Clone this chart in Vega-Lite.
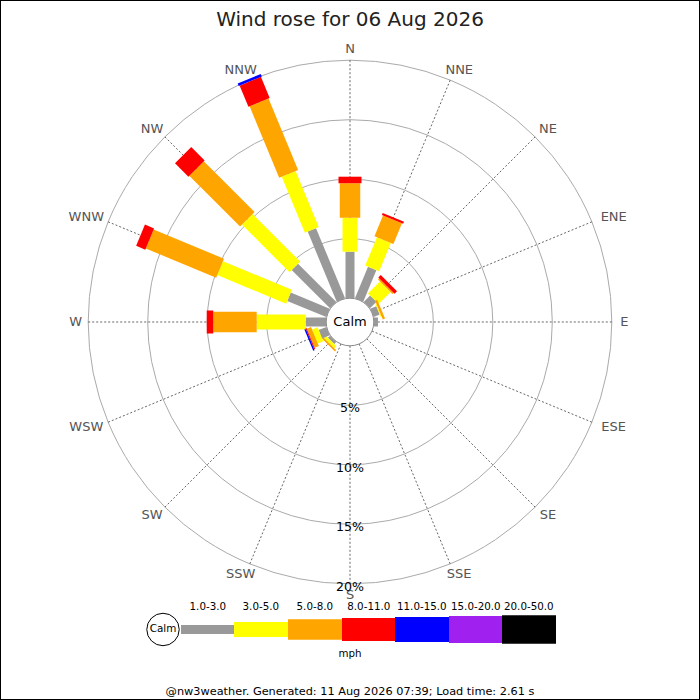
{
"$schema": "https://vega.github.io/schema/vega-lite/v6.json",
"width": 700, "height": 700,
"autosize": {"type": "none"},
"padding": 0,
"background": "#ffffff",
"config": {"font": "DejaVu Sans", "view": {"stroke": "#000000", "strokeWidth": 2}},
"title": {"text": "Wind rose for 06 Aug 2026", "fontSize": 20, "fontWeight": "normal", "color": "#222222", "anchor": "middle", "offset": -30},
"datasets": {
 "bars": [
  {"dir":"N","deg":0,"band":"1.0-3.0","lo":1,"pct":3.91},
  {"dir":"N","deg":0,"band":"3.0-5.0","lo":3,"pct":2.85},
  {"dir":"N","deg":0,"band":"5.0-8.0","lo":5,"pct":2.90},
  {"dir":"N","deg":0,"band":"8.0-11.0","lo":8,"pct":0.55},
  {"dir":"NNE","deg":22.5,"band":"1.0-3.0","lo":1,"pct":2.87},
  {"dir":"NNE","deg":22.5,"band":"3.0-5.0","lo":3,"pct":2.58},
  {"dir":"NNE","deg":22.5,"band":"5.0-8.0","lo":5,"pct":1.88},
  {"dir":"NNE","deg":22.5,"band":"8.0-11.0","lo":8,"pct":0.19},
  {"dir":"NE","deg":45,"band":"1.0-3.0","lo":1,"pct":0.77},
  {"dir":"NE","deg":45,"band":"3.0-5.0","lo":3,"pct":1.41},
  {"dir":"NE","deg":45,"band":"5.0-8.0","lo":5,"pct":0.15},
  {"dir":"NE","deg":45,"band":"8.0-11.0","lo":8,"pct":0.29},
  {"dir":"ENE","deg":67.5,"band":"1.0-3.0","lo":1,"pct":0.55},
  {"dir":"ENE","deg":67.5,"band":"3.0-5.0","lo":3,"pct":0.08},
  {"dir":"ENE","deg":67.5,"band":"5.0-8.0","lo":5,"pct":0.20},
  {"dir":"E","deg":90,"band":"1.0-3.0","lo":1,"pct":0.35},
  {"dir":"SW","deg":225,"band":"1.0-3.0","lo":1,"pct":0.25},
  {"dir":"SW","deg":225,"band":"3.0-5.0","lo":3,"pct":0.25},
  {"dir":"SW","deg":225,"band":"5.0-8.0","lo":5,"pct":0.15},
  {"dir":"WSW","deg":247.5,"band":"1.0-3.0","lo":1,"pct":0.69},
  {"dir":"WSW","deg":247.5,"band":"3.0-5.0","lo":3,"pct":0.50},
  {"dir":"WSW","deg":247.5,"band":"5.0-8.0","lo":5,"pct":0.38},
  {"dir":"WSW","deg":247.5,"band":"8.0-11.0","lo":8,"pct":0.09},
  {"dir":"WSW","deg":247.5,"band":"11.0-15.0","lo":11,"pct":0.12},
  {"dir":"W","deg":270,"band":"1.0-3.0","lo":1,"pct":1.72},
  {"dir":"W","deg":270,"band":"3.0-5.0","lo":3,"pct":4.12},
  {"dir":"W","deg":270,"band":"5.0-8.0","lo":5,"pct":3.65},
  {"dir":"W","deg":270,"band":"8.0-11.0","lo":8,"pct":0.55},
  {"dir":"WNW","deg":292.5,"band":"1.0-3.0","lo":1,"pct":3.55},
  {"dir":"WNW","deg":292.5,"band":"3.0-5.0","lo":3,"pct":6.27},
  {"dir":"WNW","deg":292.5,"band":"5.0-8.0","lo":5,"pct":6.40},
  {"dir":"WNW","deg":292.5,"band":"8.0-11.0","lo":8,"pct":0.83},
  {"dir":"NW","deg":315,"band":"1.0-3.0","lo":1,"pct":4.55},
  {"dir":"NW","deg":315,"band":"3.0-5.0","lo":3,"pct":5.65},
  {"dir":"NW","deg":315,"band":"5.0-8.0","lo":5,"pct":6.04},
  {"dir":"NW","deg":315,"band":"8.0-11.0","lo":8,"pct":1.59},
  {"dir":"NNW","deg":337.5,"band":"1.0-3.0","lo":1,"pct":6.38},
  {"dir":"NNW","deg":337.5,"band":"3.0-5.0","lo":3,"pct":5.09},
  {"dir":"NNW","deg":337.5,"band":"5.0-8.0","lo":5,"pct":6.50},
  {"dir":"NNW","deg":337.5,"band":"8.0-11.0","lo":8,"pct":1.93},
  {"dir":"NNW","deg":337.5,"band":"11.0-15.0","lo":11,"pct":0.23}
 ],
 "dirs": [
  {"dir":"N","deg":0},{"dir":"NNE","deg":22.5},{"dir":"NE","deg":45},{"dir":"ENE","deg":67.5},
  {"dir":"E","deg":90},{"dir":"ESE","deg":112.5},{"dir":"SE","deg":135},{"dir":"SSE","deg":157.5},
  {"dir":"S","deg":180},{"dir":"SSW","deg":202.5},{"dir":"SW","deg":225},{"dir":"WSW","deg":247.5},
  {"dir":"W","deg":270},{"dir":"WNW","deg":292.5},{"dir":"NW","deg":315},{"dir":"NNW","deg":337.5}
 ],
 "rings": [{"pct":5},{"pct":10},{"pct":15},{"pct":20}],
 "legend": [
  {"band":"1.0-3.0","lo":1,"hi":3},
  {"band":"3.0-5.0","lo":3,"hi":5},
  {"band":"5.0-8.0","lo":5,"hi":8},
  {"band":"8.0-11.0","lo":8,"hi":11},
  {"band":"11.0-15.0","lo":11,"hi":15},
  {"band":"15.0-20.0","lo":15,"hi":20},
  {"band":"20.0-50.0","lo":20,"hi":50}
 ]
},
"layer": [
 {"layer": [
  {"data": {"name": "rings"},
   "mark": {"type": "arc", "theta": 0, "theta2": 6.2832, "radius2": 0, "filled": false, "stroke": "#aaaaaa", "strokeWidth": 1},
   "encoding": {
    "x": {"datum": 0, "type": "quantitative", "scale": {"domain": [-29.412, 29.412], "nice": false, "zero": false}, "axis": null},
    "y": {"datum": 0, "type": "quantitative", "scale": {"domain": [-31.765, 27.059], "nice": false, "zero": false}, "axis": null},
    "radius": {"field": "pct", "type": "quantitative", "stack": null, "scale": {"type": "linear", "domain": [-2, 27.412], "range": [0, 350], "nice": false, "zero": false}}
   }},
  {"data": {"name": "dirs"},
   "transform": [
    {"calculate": "datum.deg*PI/180", "as": "a"},
    {"calculate": "2*sin(datum.a)", "as": "sx0"},
    {"calculate": "2*cos(datum.a)", "as": "sy0"},
    {"calculate": "22*sin(datum.a)", "as": "sx1"},
    {"calculate": "22*cos(datum.a)", "as": "sy1"}
   ],
   "mark": {"type": "rule", "stroke": "#555555", "strokeWidth": 0.9, "strokeDash": [2, 2]},
   "encoding": {
    "x": {"field": "sx0", "type": "quantitative", "scale": {"domain": [-29.412, 29.412], "nice": false, "zero": false}, "axis": null},
    "y": {"field": "sy0", "type": "quantitative", "scale": {"domain": [-31.765, 27.059], "nice": false, "zero": false}, "axis": null},
    "x2": {"field": "sx1"},
    "y2": {"field": "sy1"}
   }},
  {"data": {"values": [{}]},
   "mark": {"type": "arc", "theta": 0, "theta2": 6.2832, "radius2": 0, "fill": "#ffffff", "stroke": "#888888", "strokeWidth": 1},
   "encoding": {
    "x": {"datum": 0, "type": "quantitative", "scale": {"domain": [-29.412, 29.412], "nice": false, "zero": false}, "axis": null},
    "y": {"datum": 0, "type": "quantitative", "scale": {"domain": [-31.765, 27.059], "nice": false, "zero": false}, "axis": null},
    "radius": {"datum": 0, "type": "quantitative", "stack": null, "scale": {"type": "linear", "domain": [-2, 27.412], "range": [0, 350], "nice": false, "zero": false}}
   }},
  {"data": {"name": "bars"},
   "transform": [
    {"stack": "pct", "groupby": ["dir"], "sort": [{"field": "lo", "order": "ascending"}], "as": ["p0", "p1"]},
    {"calculate": "datum.deg*PI/180", "as": "a"},
    {"calculate": "(2+datum.p0)*sin(datum.a)", "as": "bx0"},
    {"calculate": "(2+datum.p0)*cos(datum.a)", "as": "by0"},
    {"calculate": "(2+datum.p1)*sin(datum.a)", "as": "bx1"},
    {"calculate": "(2+datum.p1)*cos(datum.a)", "as": "by1"}
   ],
   "mark": {"type": "rule", "strokeCap": "butt"},
   "encoding": {
    "x": {"field": "bx0", "type": "quantitative", "scale": {"domain": [-29.412, 29.412], "nice": false, "zero": false}, "axis": null},
    "y": {"field": "by0", "type": "quantitative", "scale": {"domain": [-31.765, 27.059], "nice": false, "zero": false}, "axis": null},
    "x2": {"field": "bx1"},
    "y2": {"field": "by1"},
    "color": {"field": "band", "type": "nominal", "scale": {"domain": ["1.0-3.0","3.0-5.0","5.0-8.0","8.0-11.0","11.0-15.0","15.0-20.0","20.0-50.0"], "range": ["#999999","#ffff00","#ffa500","#ff0000","#0000ff","#a020f0","#000000"]}, "legend": null},
    "strokeWidth": {"field": "lo", "type": "quantitative", "scale": {"type": "threshold", "domain": [3, 5, 8, 11, 15, 20], "range": [9, 15, 20.5, 23, 25, 27, 28.5]}, "legend": null}
   }},
  {"data": {"values": [{}]},
   "mark": {"type": "text", "fontSize": 13, "color": "#000000", "align": "center", "baseline": "middle"},
   "encoding": {
    "x": {"datum": 0, "type": "quantitative", "scale": {"domain": [-29.412, 29.412], "nice": false, "zero": false}, "axis": null},
    "y": {"datum": 0, "type": "quantitative", "scale": {"domain": [-31.765, 27.059], "nice": false, "zero": false}, "axis": null},
    "text": {"value": "Calm"}
   }},
  {"data": {"name": "dirs"},
   "transform": [
    {"calculate": "datum.deg*PI/180", "as": "a"},
    {"calculate": "(22.6 + 0.462*length(datum.dir))*sin(datum.a)", "as": "lx"},
    {"calculate": "22.95*cos(datum.a)", "as": "ly"}
   ],
   "mark": {"type": "text", "fontSize": 13, "color": "#555555", "align": "center", "baseline": "middle"},
   "encoding": {
    "x": {"field": "lx", "type": "quantitative", "scale": {"domain": [-29.412, 29.412], "nice": false, "zero": false}, "axis": null},
    "y": {"field": "ly", "type": "quantitative", "scale": {"domain": [-31.765, 27.059], "nice": false, "zero": false}, "axis": null},
    "text": {"field": "dir"}
   }},
  {"data": {"name": "rings"},
   "transform": [
    {"calculate": "-(2+datum.pct)", "as": "ty"},
    {"calculate": "datum.pct + '%'", "as": "lab"}
   ],
   "mark": {"type": "text", "fontSize": 12.6, "color": "#000000", "align": "center", "baseline": "middle", "dy": 2.8},
   "encoding": {
    "x": {"datum": 0, "type": "quantitative", "scale": {"domain": [-29.412, 29.412], "nice": false, "zero": false}, "axis": null},
    "y": {"field": "ty", "type": "quantitative", "scale": {"domain": [-31.765, 27.059], "nice": false, "zero": false}, "axis": null},
    "text": {"field": "lab"}
   }},
  {"data": {"values": [{}]},
   "mark": {"type": "text", "fontSize": 10.3, "color": "#000000", "align": "center", "baseline": "middle"},
   "encoding": {
    "x": {"datum": 0, "type": "quantitative", "scale": {"domain": [-29.412, 29.412], "nice": false, "zero": false}, "axis": null},
    "y": {"datum": -27.94, "type": "quantitative", "scale": {"domain": [-31.765, 27.059], "nice": false, "zero": false}, "axis": null},
    "text": {"value": "mph"}
   }},
  {"data": {"values": [{}]},
   "mark": {"type": "text", "fontSize": 11.3, "color": "#000000", "align": "center", "baseline": "middle"},
   "encoding": {
    "x": {"datum": 0, "type": "quantitative", "scale": {"domain": [-29.412, 29.412], "nice": false, "zero": false}, "axis": null},
    "y": {"datum": -31.09, "type": "quantitative", "scale": {"domain": [-31.765, 27.059], "nice": false, "zero": false}, "axis": null},
    "text": {"value": "@nw3weather. Generated: 11 Aug 2026 07:39; Load time: 2.61 s"}
   }}
 ]},
 {"layer": [
  {"data": {"name": "legend"},
   "mark": {"type": "rule", "strokeCap": "butt"},
   "encoding": {
    "x": {"field": "lo", "type": "quantitative", "scale": {"type": "linear", "domain": [0, 1, 3, 5, 8, 11, 15, 20, 50], "range": [163, 181, 234, 288, 342, 395, 449, 502, 556], "nice": false, "zero": false}, "axis": null},
    "x2": {"field": "hi"},
    "y": {"datum": -25.84, "type": "quantitative", "scale": {"domain": [-31.765, 27.059], "nice": false, "zero": false}, "axis": null},
    "color": {"field": "band", "type": "nominal", "scale": {"domain": ["1.0-3.0","3.0-5.0","5.0-8.0","8.0-11.0","11.0-15.0","15.0-20.0","20.0-50.0"], "range": ["#999999","#ffff00","#ffa500","#ff0000","#0000ff","#a020f0","#000000"]}, "legend": null},
    "strokeWidth": {"field": "lo", "type": "quantitative", "scale": {"type": "threshold", "domain": [3, 5, 8, 11, 15, 20], "range": [9, 15, 20.5, 23, 25, 27, 28.5]}, "legend": null}
   }},
  {"data": {"name": "legend"},
   "mark": {"type": "text", "fontSize": 10.3, "color": "#000000", "align": "center", "baseline": "middle", "dx": 26.8},
   "encoding": {
    "x": {"field": "lo", "type": "quantitative", "scale": {"type": "linear", "domain": [0, 1, 3, 5, 8, 11, 15, 20, 50], "range": [163, 181, 234, 288, 342, 395, 449, 502, 556], "nice": false, "zero": false}, "axis": null},
    "y": {"datum": -23.99, "type": "quantitative", "scale": {"domain": [-31.765, 27.059], "nice": false, "zero": false}, "axis": null},
    "text": {"field": "band"}
   }},
  {"data": {"values": [{}]},
   "mark": {"type": "point", "shape": "circle", "size": 1052, "filled": false, "fill": "#ffffff", "stroke": "#000000", "strokeWidth": 1, "opacity": 1},
   "encoding": {
    "x": {"datum": 0, "type": "quantitative", "scale": {"type": "linear", "domain": [0, 1, 3, 5, 8, 11, 15, 20, 50], "range": [163, 181, 234, 288, 342, 395, 449, 502, 556], "nice": false, "zero": false}, "axis": null},
    "y": {"datum": -25.84, "type": "quantitative", "scale": {"domain": [-31.765, 27.059], "nice": false, "zero": false}, "axis": null}
   }},
  {"data": {"values": [{}]},
   "mark": {"type": "text", "fontSize": 10.4, "color": "#000000", "align": "center", "baseline": "middle"},
   "encoding": {
    "x": {"datum": 0, "type": "quantitative", "scale": {"type": "linear", "domain": [0, 1, 3, 5, 8, 11, 15, 20, 50], "range": [163, 181, 234, 288, 342, 395, 449, 502, 556], "nice": false, "zero": false}, "axis": null},
    "y": {"datum": -25.84, "type": "quantitative", "scale": {"domain": [-31.765, 27.059], "nice": false, "zero": false}, "axis": null},
    "text": {"value": "Calm"}
   }}
 ]}
],
"resolve": {"scale": {"x": "independent"}}
}
